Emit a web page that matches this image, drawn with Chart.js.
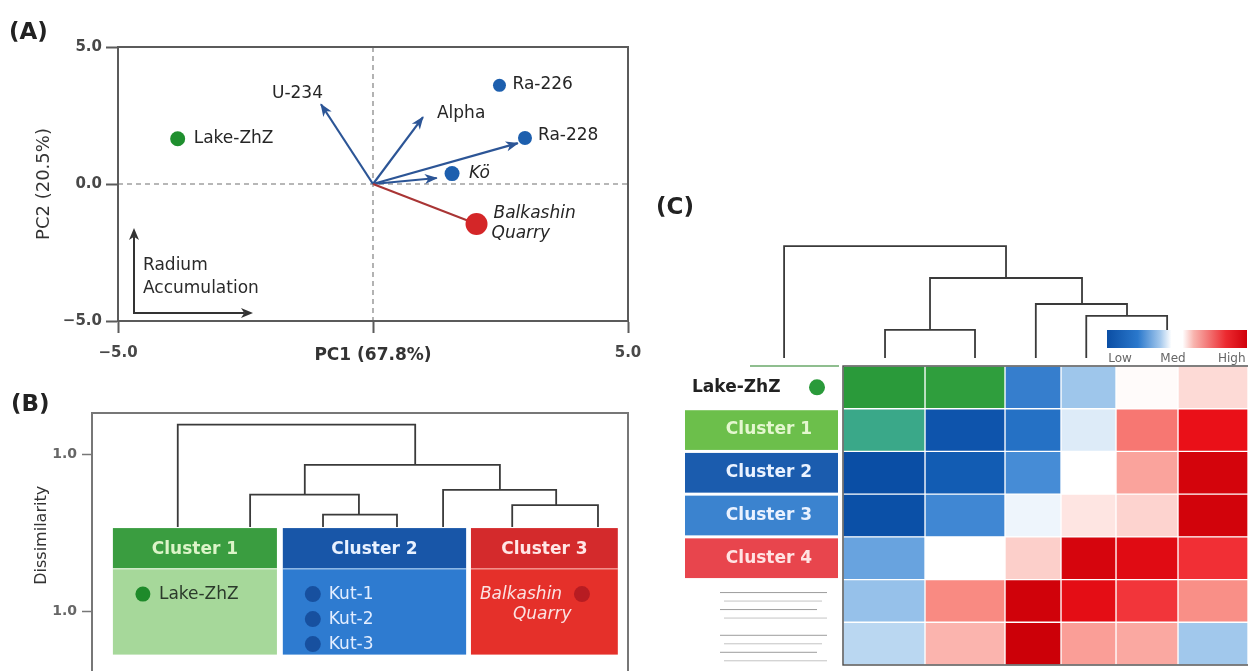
<!DOCTYPE html>
<html>
<head>
<meta charset="utf-8">
<script src="https://cdn.jsdelivr.net/npm/chart.js@4.4.1/dist/chart.umd.min.js"></script>
<style>
  html, body { margin: 0; padding: 0; background: #fff; }
  #page { position: relative; width: 1248px; height: 671px; overflow: hidden; font-family: "DejaVu Sans", sans-serif; }
  canvas { position: absolute; }
  .tag { position: absolute; font: 700 23px "DejaVu Sans", sans-serif; color: #222; line-height: 30px; }
</style>
</head>
<body>
<div id="page">
  <canvas id="pca" width="660" height="372" style="left:0;top:0"></canvas>
  <canvas id="dendroB" width="640" height="299" style="left:0;top:372px"></canvas>
  <canvas id="dendroC" width="608" height="136" style="left:640px;top:230px"></canvas>
  <canvas id="heat" width="608" height="311" style="left:640px;top:360px"></canvas>
  <div class="tag" style="left:9px;top:16px">(A)</div>
  <div class="tag" style="left:11px;top:388px">(B)</div>
  <div class="tag" style="left:656px;top:191px">(C)</div>
</div>
<script>
// ---------- data ----------
// (A) PCA biplot
const sampleNames = ['Lake-ZhZ', 'Ra-226', 'Ra-228', 'Kö', 'Balkashin Quarry'];
const samplePC1 = [-3.83, 2.48, 2.98, 1.55, 2.03];
const samplePC2 = [1.65, 3.6, 1.68, 0.38, -1.46];
const loadingNames = ['U-234', 'Alpha', 'Ra-228', 'Kö'];
const loadingPC1 = [-1.02, 0.98, 2.84, 1.25];
const loadingPC2 = [2.91, 2.44, 1.49, 0.22];
const pcTicks = [-5, 0, 5];

// (B) dendrogram: one entry per merge
const bLinkLeft = [16.0, 39.7, 29.5, 43.1, 65.5, 78.4];
const bLinkRight = [60.3, 76.1, 49.8, 56.9, 86.6, 94.4];
const bLinkHeight = [1.146, 0.948, 0.802, 0.703, 0.825, 0.750];
const bLinkLeftBase = [0.642, 0.802, 0.642, 0.642, 0.642, 0.642];
const bLinkRightBase = [0.948, 0.825, 0.703, 0.642, 0.750, 0.642];
const bTickValues = [0.226, 1.0];
const bTickLabels = ['1.0', '1.0'];
const bClusterNames = ['Cluster 1', 'Cluster 2', 'Cluster 3'];
const bClusterMembers = [['Lake-ZhZ'], ['Kut-1', 'Kut-2', 'Kut-3'], ['Balkashin', 'Quarry']];

// (C) dendrogram + heatmap
const cLinkLeft = [23.7, 47.7, 40.3, 65.1, 73.4];
const cLinkRight = [60.2, 72.7, 55.1, 80.1, 86.7];
const cLinkHeight = [0.882, 0.647, 0.265, 0.456, 0.368];
const cLinkLeftBase = [0.059, 0.265, 0.059, 0.059, 0.059];
const cLinkRightBase = [0.647, 0.456, 0.059, 0.368, 0.265];
const heatRows = ['Lake-ZhZ', 'Cluster 1', 'Cluster 2', 'Cluster 3', 'Cluster 4', '', ''];
const heatValues = [
  [null, null, -0.6, -0.28, 0.02, 0.17],
  [null, -0.93, -0.68, -0.1, 0.55, 0.85],
  [-1.0, -0.85, -0.52, 0.0, 0.4, 0.96],
  [-0.98, -0.55, -0.05, 0.12, 0.2, 0.97],
  [-0.42, 0.0, 0.22, 0.95, 0.9, 0.74],
  [-0.3, 0.5, 0.98, 0.88, 0.72, 0.48],
  [-0.2, 0.33, 1.0, 0.42, 0.38, -0.27]
];
// cells coloured by group instead of by value
const groupCells = [[0, 0, '#2a9a3a'], [0, 1, '#2f9e3d'], [1, 0, '#3aa889']];
const scaleLabels = ['Low', 'Med', 'High'];

// ---------- layout / styles ----------
const FONT = '"DejaVu Sans", sans-serif';
const sampleColor = ['#1f8f2e', '#1d5fae', '#1d5fae', '#1d5fae', '#d42628'];
const sampleRadius = [7.5, 6.5, 7, 7.5, 11];
const sampleLabelPos = [
  { dx: 16, dy: 0 }, { dx: 13, dy: -1 }, { dx: 13, dy: -2 },
  { dx: 17, dy: 0, italic: true }, { dx: 17, dy: -10, italic: true, lines: ['Balkashin', 'Quarry'] }
];
const ARROW = '#2c5596';
const bClusterSpan = [[3.9, 34.5], [35.6, 69.8], [70.7, 98.1]];
const bClusterStyle = [
  { head: '#3a9d40', body: '#a6d89a', headText: '#dcf4c8', text: '#2b3a2b', dot: '#1e8a2a' },
  { head: '#1856a8', body: '#2e7bd0', headText: '#e8f1ff', text: '#e2edff', dot: '#17509f' },
  { head: '#d42a2c', body: '#e5302a', headText: '#ffe6e6', text: '#fbe3e3', dot: '#b71c22' }
];
const colWidth = [82, 80, 56, 55, 62, 70];
const rowBox = ['', '#6cbf4b', '#1b5cae', '#3b83cf', '#e8454d'];
const rowText = ['#222', '#e4f7cf', '#eaf2ff', '#eaf2ff', '#ffe3e3'];
const colorStops = [
  [-1, '#0a4ea5'], [-0.75, '#1765bd'], [-0.5, '#4a8fd8'], [-0.25, '#a9cdee'], [0, '#ffffff'],
  [0.25, '#fcc8c3'], [0.5, '#f98a82'], [0.72, '#f2353a'], [0.85, '#ea1018'], [1, '#cc0008']
];

Chart.defaults.font.family = FONT;
Chart.defaults.animation = false;
Chart.defaults.plugins.legend.display = false;
Chart.defaults.plugins.tooltip.enabled = false;

function hexRgb(h) { return [1, 3, 5].map(i => parseInt(h.substr(i, 2), 16)); }
function valueColor(v) {
  for (let i = 1; i < colorStops.length; i++) {
    if (v <= colorStops[i][0]) {
      const [v0, c0] = colorStops[i - 1], [v1, c1] = colorStops[i];
      const t = (v - v0) / (v1 - v0), a = hexRgb(c0), b = hexRgb(c1);
      return 'rgb(' + a.map((x, k) => Math.round(x + (b[k] - x) * t)).join(',') + ')';
    }
  }
  return colorStops[colorStops.length - 1][1];
}
function cellColor(r, c) {
  const g = groupCells.find(d => d[0] === r && d[1] === c);
  return g ? g[2] : valueColor(heatValues[r][c]);
}

function arrowHead(ctx, x0, y0, x1, y1, color, len, wid) {
  const a = Math.atan2(y1 - y0, x1 - x0);
  ctx.save();
  ctx.fillStyle = color;
  ctx.translate(x1, y1);
  ctx.rotate(a);
  ctx.beginPath();
  ctx.moveTo(1, 0);
  ctx.lineTo(-len, -wid);
  ctx.lineTo(-len * 0.7, 0);
  ctx.lineTo(-len, wid);
  ctx.closePath();
  ctx.fill();
  ctx.restore();
}

function linkDatasets(left, right, height, leftBase, rightBase, color, width) {
  return left.map((_, i) => ({
    data: [{ x: left[i], y: leftBase[i] }, { x: left[i], y: height[i] },
           { x: right[i], y: height[i] }, { x: right[i], y: rightBase[i] }],
    showLine: true, borderColor: color, borderWidth: width, pointRadius: 0,
    borderJoinStyle: 'miter', borderCapStyle: 'butt', clip: false
  }));
}

// ---------- (A) PCA ----------
const pcaDecor = {
  id: 'pcaDecor',
  beforeDatasetsDraw(chart) {
    const { ctx, chartArea: a, scales: { x, y } } = chart;
    ctx.save();
    ctx.strokeStyle = '#a0a0a0';
    ctx.lineWidth = 1.6;
    ctx.setLineDash([5, 4]);
    ctx.beginPath();
    ctx.moveTo(x.getPixelForValue(0), a.top);
    ctx.lineTo(x.getPixelForValue(0), a.bottom);
    ctx.moveTo(a.left, y.getPixelForValue(0));
    ctx.lineTo(a.right, y.getPixelForValue(0));
    ctx.stroke();
    ctx.restore();
  },
  afterDatasetsDraw(chart) {
    const { ctx, chartArea: a } = chart;
    ctx.save();
    // frame
    ctx.strokeStyle = '#5b5b5b';
    ctx.lineWidth = 2;
    ctx.strokeRect(a.left, a.top, a.right - a.left, a.bottom - a.top);
    // arrow heads on loadings
    for (let i = 2; i < chart.data.datasets.length; i++) {
      const pts = chart.getDatasetMeta(i).data;
      arrowHead(ctx, pts[0].x, pts[0].y, pts[1].x, pts[1].y, ARROW, 12, 5);
    }
    ctx.fillStyle = '#262626';
    ctx.textBaseline = 'middle';
    // loading labels
    const l0 = chart.getDatasetMeta(2).data[1], l1 = chart.getDatasetMeta(3).data[1];
    ctx.font = '400 17px ' + FONT;
    ctx.textAlign = 'right';
    ctx.fillText(loadingNames[0], l0.x + 2, l0.y - 11);
    ctx.textAlign = 'left';
    ctx.fillText(loadingNames[1], l1.x + 14, l1.y - 4);
    // sample labels
    chart.getDatasetMeta(0).data.forEach((p, i) => {
      const s = sampleLabelPos[i];
      ctx.font = (s.italic ? 'italic ' : '') + '400 17px ' + FONT;
      if (s.lines) {
        ctx.fillText(s.lines[0], p.x + s.dx, p.y + s.dy);
        ctx.fillText(s.lines[1], p.x + s.dx - 2, p.y + s.dy + 20);
      } else {
        ctx.fillText(sampleNames[i], p.x + s.dx, p.y + s.dy);
      }
    });
    // "Radium Accumulation" key
    const ox = a.left + 16, oy = a.bottom - 8;
    ctx.strokeStyle = '#333';
    ctx.lineWidth = 2;
    ctx.beginPath();
    ctx.moveTo(ox, oy - 76); ctx.lineTo(ox, oy); ctx.lineTo(ox + 110, oy);
    ctx.stroke();
    arrowHead(ctx, ox, oy, ox, oy - 84, '#333', 11, 5);
    arrowHead(ctx, ox, oy, ox + 118, oy, '#333', 11, 5);
    ctx.font = '400 17px ' + FONT;
    ctx.fillStyle = '#2a2a2a';
    ctx.fillText('Radium', ox + 9, oy - 47);
    ctx.fillText('Accumulation', ox + 9, oy - 24);
    ctx.restore();
  }
};

const pcaDatasets = [
  {
    data: samplePC1.map((v, i) => ({ x: v, y: samplePC2[i] })),
    pointBackgroundColor: sampleColor, pointBorderColor: sampleColor,
    pointRadius: sampleRadius, pointBorderWidth: 0
  },
  {
    data: [{ x: 0, y: 0 }, { x: samplePC1[4], y: samplePC2[4] }],
    showLine: true, borderColor: '#a93535', borderWidth: 2, pointRadius: 0
  }
].concat(loadingPC1.map((v, i) => ({
  data: [{ x: 0, y: 0 }, { x: v, y: loadingPC2[i] }],
  showLine: true, borderColor: ARROW, borderWidth: 2.2, pointRadius: 0
})));

const tickFont = { size: 15, weight: '700' };
new Chart(document.getElementById('pca'), {
  type: 'scatter',
  data: { datasets: pcaDatasets },
  options: {
    responsive: false,
    layout: { padding: { top: 47, right: 32, left: 0, bottom: 0 } },
    scales: {
      x: {
        type: 'linear', min: -5, max: 5,
        afterBuildTicks: s => { s.ticks = pcTicks.map(v => ({ value: v })); },
        afterFit: s => { s.height = 51; },
        ticks: {
          color: '#484848', font: tickFont, padding: 11, maxRotation: 0,
          callback: v => v === 0 ? '' : (v < 0 ? '\u2212' : '') + Math.abs(v).toFixed(1)
        },
        grid: { drawOnChartArea: false, tickLength: 12, tickColor: '#5b5b5b', tickWidth: 2 },
        border: { color: '#5b5b5b', width: 2 },
        title: { display: true, text: 'PC1 (67.8%)', color: '#333', font: { size: 17, weight: '700' }, padding: { top: 0, bottom: 6 } }
      },
      y: {
        type: 'linear', min: -5, max: 5,
        afterBuildTicks: s => { s.ticks = pcTicks.map(v => ({ value: v })); },
        afterFit: s => { s.width = 118; },
        ticks: {
          color: '#484848', font: tickFont, padding: 4,
          callback: v => (v < 0 ? '\u2212' : '') + Math.abs(v).toFixed(1)
        },
        grid: { drawOnChartArea: false, tickLength: 12, tickColor: '#5b5b5b', tickWidth: 2 },
        border: { color: '#5b5b5b', width: 2 },
        title: { display: true, text: 'PC2 (20.5%)', color: '#333', font: { size: 18, weight: '400' }, padding: { top: 34, bottom: 0 } }
      }
    }
  },
  plugins: [pcaDecor]
});

// ---------- (B) dendrogram with cluster boxes ----------
const bDecor = {
  id: 'bDecor',
  afterDatasetsDraw(chart) {
    const { ctx, chartArea: a, scales: { x, y } } = chart;
    ctx.save();
    ctx.strokeStyle = '#777';
    ctx.lineWidth = 2;
    ctx.strokeRect(a.left, a.top, a.right - a.left, a.bottom - a.top + 20);
    const top = y.getPixelForValue(0.637), headH = 40, bottom = a.bottom - 3;
    bClusterNames.forEach((name, k) => {
      const st = bClusterStyle[k];
      const x0 = x.getPixelForValue(bClusterSpan[k][0]), x1 = x.getPixelForValue(bClusterSpan[k][1]);
      ctx.fillStyle = st.head;
      ctx.fillRect(x0, top, x1 - x0, headH);
      ctx.fillStyle = st.body;
      ctx.fillRect(x0, top + headH, x1 - x0, bottom - top - headH);
      ctx.fillStyle = 'rgba(255,255,255,0.45)';
      ctx.fillRect(x0, top + headH, x1 - x0, 1.5);
      ctx.fillStyle = st.headText;
      ctx.font = '700 17px ' + FONT;
      ctx.textAlign = 'center';
      ctx.textBaseline = 'middle';
      ctx.fillText(name, (x0 + x1) / 2, top + 21);
      ctx.textAlign = 'left';
      const members = bClusterMembers[k];
      const rowY = top + headH + 26;
      if (k < 2) {
        members.forEach((m, j) => {
          const yy = rowY + j * 25;
          ctx.fillStyle = st.dot;
          ctx.beginPath(); ctx.arc(x0 + 30, yy, k === 0 ? 7.5 : 8, 0, Math.PI * 2); ctx.fill();
          ctx.fillStyle = st.text;
          ctx.font = '400 17px ' + FONT;
          ctx.fillText(m, x0 + 46, yy);
        });
      } else {
        ctx.font = 'italic 400 17px ' + FONT;
        ctx.fillStyle = st.text;
        ctx.fillText(members[0], x0 + 9, rowY);
        ctx.fillText(members[1], x0 + 42, rowY + 20);
        ctx.fillStyle = st.dot;
        ctx.beginPath(); ctx.arc(x0 + 111, rowY, 8, 0, Math.PI * 2); ctx.fill();
      }
    });
    ctx.restore();
  }
};

new Chart(document.getElementById('dendroB'), {
  type: 'scatter',
  data: { datasets: linkDatasets(bLinkLeft, bLinkRight, bLinkHeight, bLinkLeftBase, bLinkRightBase, '#3a3a3a', 1.8) },
  options: {
    responsive: false,
    layout: { padding: { top: 41, right: 12, left: 0, bottom: 3 } },
    scales: {
      x: { type: 'linear', min: 0, max: 100, display: false },
      y: {
        type: 'linear', min: 0, max: 1.203,
        afterBuildTicks: s => { s.ticks = bTickValues.map(v => ({ value: v })); },
        afterFit: s => { s.width = 92; },
        ticks: { color: '#666', font: { size: 14, weight: '700' }, padding: 5, callback: (v, i) => bTickLabels[i] },
        grid: { drawOnChartArea: false, tickLength: 10, tickColor: '#777', tickWidth: 1.5 },
        border: { color: '#777', width: 2 },
        title: { display: true, text: 'Dissimilarity', color: '#333', font: { size: 16, weight: '400' }, padding: { top: 32, bottom: 0 } }
      }
    }
  },
  plugins: [bDecor]
});

// ---------- (C) dendrogram + colour key ----------
const cKey = {
  id: 'cKey',
  afterDatasetsDraw(chart) {
    const { ctx } = chart;
    const x0 = 467, x1 = 607, y0 = 100, h = 18;
    ctx.save();
    const g = ctx.createLinearGradient(x0, 0, x1, 0);
    [[0, '#0b4ea4'], [0.22, '#2a78cc'], [0.38, '#a4c8ec'], [0.46, '#ffffff'], [0.54, '#ffffff'],
     [0.62, '#f8b4ae'], [0.85, '#ec2a30'], [1, '#d0000a']].forEach(s => g.addColorStop(s[0], s[1]));
    ctx.fillStyle = g;
    ctx.fillRect(x0, y0, x1 - x0, h);
    ctx.fillStyle = '#666';
    ctx.font = '400 12px ' + FONT;
    ctx.textBaseline = 'middle';
    ctx.textAlign = 'center';
    ctx.fillText(scaleLabels[0], x0 + 13, y0 + 29);
    ctx.fillText(scaleLabels[1], x0 + 66, y0 + 29);
    ctx.textAlign = 'left';
    ctx.fillText(scaleLabels[2], x0 + 111, y0 + 29);
    ctx.restore();
  }
};

new Chart(document.getElementById('dendroC'), {
  type: 'scatter',
  data: { datasets: linkDatasets(cLinkLeft, cLinkRight, cLinkHeight, cLinkLeftBase, cLinkRightBase, '#3a3a3a', 1.8) },
  options: {
    responsive: false,
    layout: { padding: 0 },
    scales: {
      x: { type: 'linear', min: 0, max: 100, display: false },
      y: { type: 'linear', min: 0, max: 1, display: false }
    }
  },
  plugins: [cKey]
});

// ---------- (C) heatmap ----------
const heatDecor = {
  id: 'heatDecor',
  afterDatasetsDraw(chart) {
    const { ctx, chartArea: a, scales: { y } } = chart;
    const rowH = (a.bottom - a.top) / heatRows.length;
    ctx.save();
    ctx.strokeStyle = '#4a4a4a';
    ctx.lineWidth = 1.4;
    ctx.strokeRect(a.left, a.top, a.right - a.left + 2, a.bottom - a.top);
    ctx.strokeStyle = '#6aa86a';
    ctx.lineWidth = 1.5;
    ctx.beginPath(); ctx.moveTo(110, a.top); ctx.lineTo(a.left - 4, a.top); ctx.stroke();
    heatRows.forEach((name, r) => {
      const cy = y.getPixelForValue(r);
      ctx.textBaseline = 'middle';
      if (r === 0) {
        ctx.fillStyle = rowText[0];
        ctx.font = '700 17px ' + FONT;
        ctx.textAlign = 'left';
        ctx.fillText(name, 52, cy);
        ctx.fillStyle = '#2a9a3a';
        ctx.beginPath(); ctx.arc(177, cy, 8, 0, Math.PI * 2); ctx.fill();
      } else if (name) {
        ctx.fillStyle = rowBox[r];
        ctx.fillRect(45, cy - rowH / 2 + 1.5, 153, rowH - 3);
        ctx.fillStyle = rowText[r];
        ctx.font = '700 17px ' + FONT;
        ctx.textAlign = 'center';
        ctx.fillText(name, 129, cy);
      } else {
        // unlabeled rows: grey placeholder strokes
        ctx.lineWidth = 1;
        for (let j = 0; j < 4; j++) {
          const yy = cy - rowH / 2 + 13 + j * 8.5;
          ctx.strokeStyle = j % 2 ? '#c4c4c4' : '#9c9c9c';
          ctx.beginPath(); ctx.moveTo(80 + (j % 2) * 4, yy); ctx.lineTo(187 - (j % 3) * 5, yy); ctx.stroke();
        }
      }
    });
    ctx.restore();
  }
};

new Chart(document.getElementById('heat'), {
  type: 'bar',
  data: {
    labels: heatRows,
    datasets: colWidth.map((w, c) => ({
      data: heatRows.map(() => w),
      backgroundColor: heatRows.map((_, r) => cellColor(r, c)),
      borderColor: 'rgba(255,255,255,0.55)', borderWidth: 1, borderSkipped: false,
      barPercentage: 1, categoryPercentage: 1
    }))
  },
  options: {
    responsive: false,
    indexAxis: 'y',
    layout: { padding: { left: 203, right: 0, top: 6, bottom: 6 } },
    scales: {
      x: { type: 'linear', stacked: true, min: 0, max: colWidth.reduce((s, v) => s + v, 0), display: false },
      y: { type: 'category', stacked: true, display: false }
    }
  },
  plugins: [heatDecor]
});
</script>
</body>
</html>
